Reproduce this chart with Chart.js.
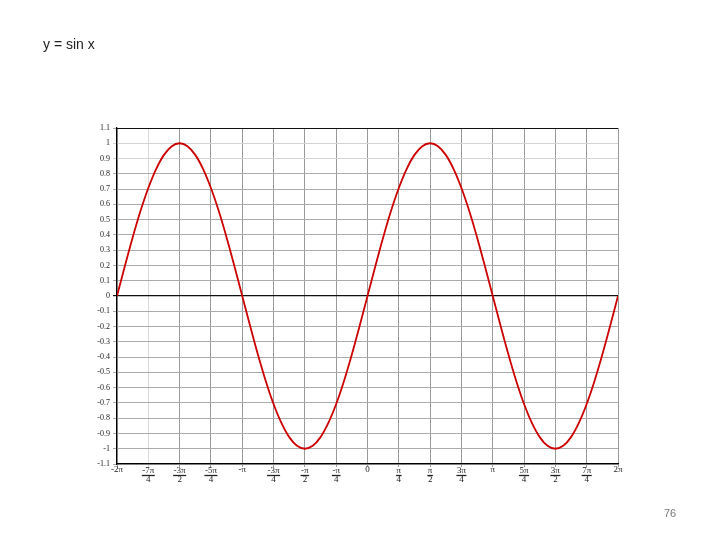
<!DOCTYPE html>
<html>
<head>
<meta charset="utf-8">
<script src="https://cdn.jsdelivr.net/npm/chart.js@4/dist/chart.umd.min.js"></script>
<style>
  html, body { margin: 0; padding: 0; background: #fff; }
  #wrap { position: relative; width: 720px; height: 540px; }
  #title { position: absolute; left: 43px; top: 36px; font: 14px "Liberation Sans", Arial, sans-serif; color: #222; }
  #page { position: absolute; left: 664px; top: 507px; font: 11px "Liberation Sans", Arial, sans-serif; color: #777; }
  canvas { position: absolute; left: 0; top: 0; }
</style>
</head>
<body>
<div id="wrap">
  <canvas id="c" width="720" height="540"></canvas>
  <div id="title">y = sin x</div>
  <div id="page">76</div>
</div>
<script>
// x positions in multiples of π
const xValues = [-2, -1.9375, -1.875, -1.8125, -1.75, -1.6875, -1.625, -1.5625, -1.5, -1.4375, -1.375, -1.3125, -1.25, -1.1875, -1.125, -1.0625,
  -1, -0.9375, -0.875, -0.8125, -0.75, -0.6875, -0.625, -0.5625, -0.5, -0.4375, -0.375, -0.3125, -0.25, -0.1875, -0.125, -0.0625,
  0, 0.0625, 0.125, 0.1875, 0.25, 0.3125, 0.375, 0.4375, 0.5, 0.5625, 0.625, 0.6875, 0.75, 0.8125, 0.875, 0.9375,
  1, 1.0625, 1.125, 1.1875, 1.25, 1.3125, 1.375, 1.4375, 1.5, 1.5625, 1.625, 1.6875, 1.75, 1.8125, 1.875, 1.9375, 2];
const yValues = [0, 0.195, 0.383, 0.556, 0.707, 0.831, 0.924, 0.981, 1, 0.981, 0.924, 0.831, 0.707, 0.556, 0.383, 0.195,
  0, -0.195, -0.383, -0.556, -0.707, -0.831, -0.924, -0.981, -1, -0.981, -0.924, -0.831, -0.707, -0.556, -0.383, -0.195,
  0, 0.195, 0.383, 0.556, 0.707, 0.831, 0.924, 0.981, 1, 0.981, 0.924, 0.831, 0.707, 0.556, 0.383, 0.195,
  0, -0.195, -0.383, -0.556, -0.707, -0.831, -0.924, -0.981, -1, -0.981, -0.924, -0.831, -0.707, -0.556, -0.383, -0.195, 0];
const xTickValues = [-2, -1.75, -1.5, -1.25, -1, -0.75, -0.5, -0.25, 0, 0.25, 0.5, 0.75, 1, 1.25, 1.5, 1.75, 2];
const xTickLabels = ['-2π', '-7π/4', '-3π/2', '-5π/4', '-π', '-3π/4', '-π/2', '-π/4', '0', 'π/4', 'π/2', '3π/4', 'π', '5π/4', '3π/2', '7π/4', '2π'];
const yTickValues = [1.1, 1, 0.9, 0.8, 0.7, 0.6, 0.5, 0.4, 0.3, 0.2, 0.1, 0, -0.1, -0.2, -0.3, -0.4, -0.5, -0.6, -0.7, -0.8, -0.9, -1, -1.1];
const yTickLabels = ['1.1', '1', '0.9', '0.8', '0.7', '0.6', '0.5', '0.4', '0.3', '0.2', '0.1', '0', '-0.1', '-0.2', '-0.3', '-0.4', '-0.5', '-0.6', '-0.7', '-0.8', '-0.9', '-1', '-1.1'];

const points = xValues.map((x, i) => ({ x: x, y: yValues[i] }));
const SERIF = '"Liberation Serif", "DejaVu Serif", serif';

const fracLabels = {
  id: 'fracLabels',
  afterDraw(chart) {
    const ctx = chart.ctx;
    const xs = chart.scales.x;
    const area = chart.chartArea;
    ctx.save();
    ctx.fillStyle = '#222';
    ctx.strokeStyle = '#222';
    ctx.lineWidth = 1.3;
    ctx.textAlign = 'center';
    ctx.textBaseline = 'middle';
    ctx.font = '9px ' + SERIF;
    xTickValues.forEach((v, i) => {
      const px = xs.getPixelForValue(v);
      const lbl = xTickLabels[i];
      const top = area.bottom;
      if (lbl.indexOf('/') >= 0) {
        const parts = lbl.split('/');
        ctx.fillText(parts[0], px, top + 7);
        const w = Math.max(ctx.measureText(parts[0]).width, ctx.measureText(parts[1]).width) + 1;
        ctx.beginPath();
        ctx.moveTo(px - w / 2, top + 11.5);
        ctx.lineTo(px + w / 2, top + 11.5);
        ctx.stroke();
        ctx.fillText(parts[1], px, top + 16);
      } else {
        ctx.fillText(lbl, px, top + 6);
      }
    });
    // top border
    ctx.strokeStyle = '#111';
    ctx.lineWidth = 1;
    ctx.beginPath();
    ctx.moveTo(area.left, area.top + 0.5);
    ctx.lineTo(area.right, area.top + 0.5);
    ctx.stroke();
    ctx.restore();
  }
};

new Chart(document.getElementById('c'), {
  type: 'line',
  data: {
    datasets: [{
      data: points,
      borderColor: '#cc0000',
      borderWidth: 1.8,
      pointRadius: 0,
      tension: 0.4,
      cubicInterpolationMode: 'monotone',
      fill: false
    }]
  },
  options: {
    responsive: false,
    animation: false,
    events: [],
    layout: { padding: { left: 87, right: 102, top: 128, bottom: 36 } },
    plugins: { legend: { display: false }, tooltip: { enabled: false }, title: { display: false } },
    scales: {
      x: {
        type: 'linear',
        min: -2, max: 2,
        afterBuildTicks: s => { s.ticks = xTickValues.map(v => ({ value: v })); },
        afterFit: s => { s.height = 40; },
        ticks: { display: false },
        border: { color: '#000', width: 1.2 },
        grid: {
          color: c => (c.tick && c.tick.value === -1.75) ? '#d8d8d8' : '#9a9a9a',
          lineWidth: 1,
          drawTicks: true,
          tickLength: 3
        }
      },
      y: {
        type: 'linear',
        min: -1.1, max: 1.1,
        afterBuildTicks: s => { s.ticks = yTickValues.map(v => ({ value: v })); },
        afterFit: s => { s.width = 30; },
        ticks: {
          autoSkip: false,
          padding: 3,
          color: '#222',
          font: { family: SERIF, size: 8 },
          callback: (v, i) => yTickLabels[i]
        },
        border: { color: '#000', width: 1.2 },
        grid: {
          color: c => {
            const v = c.tick ? c.tick.value : null;
            if (v === 0) return '#111';
            if (v === 1 || v === 0.9) return '#d4d4d4';
            return '#ababab';
          },
          lineWidth: c => (c.tick && c.tick.value === 0) ? 1.2 : 1,
          drawTicks: true,
          tickLength: 4
        }
      }
    }
  },
  plugins: [fracLabels]
});
</script>
</body>
</html>
